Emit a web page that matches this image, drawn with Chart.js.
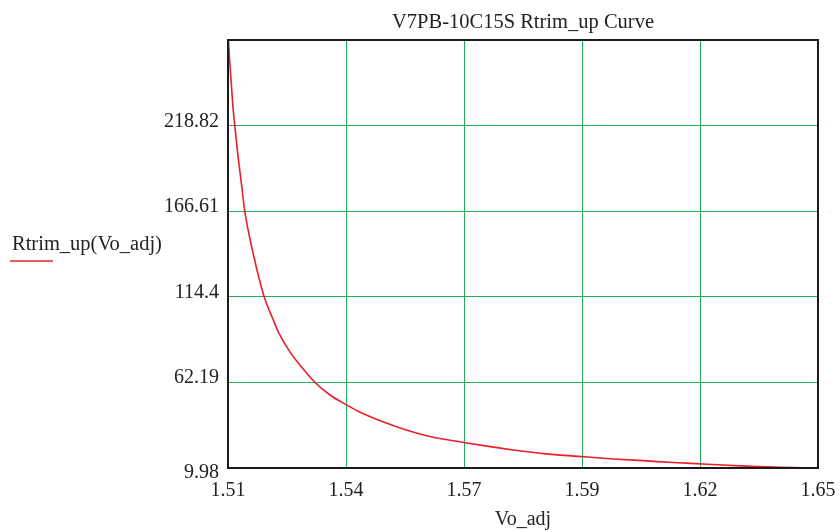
<!DOCTYPE html>
<html>
<head>
<meta charset="utf-8">
<script src="https://cdn.jsdelivr.net/npm/chart.js@4.4.0/dist/chart.umd.min.js"></script>
<style>
  html, body { margin: 0; padding: 0; background: #fff; }
  #wrap { width: 840px; height: 531px; }
</style>
</head>
<body>
<div id="wrap"><canvas id="chart" width="840" height="531"></canvas></div>
<script>
// values
const voAdj = [1.5101, 1.5104, 1.5112, 1.5116, 1.5123, 1.5133, 1.5139, 1.5160, 1.5186, 1.5206,
  1.5219, 1.5247, 1.5278, 1.5306, 1.5342, 1.5379, 1.5420, 1.5500, 1.5579, 1.5656,
  1.5714, 1.5777, 1.5856, 1.5940, 1.6014, 1.6094, 1.6157, 1.6236, 1.6315, 1.6394, 1.6500];
const rtrimUp = [271.03, 258.0, 229.5, 219.0, 202.0, 181.0, 168.0, 140.5, 114.3, 101.2,
  93.2, 80.8, 70.5, 62.3, 54.5, 48.8, 43.2, 35.2, 29.2, 25.7,
  23.3, 21.0, 18.6, 16.9, 15.5, 14.3, 13.3, 12.3, 11.3, 10.5, 9.98];

const xTicks = [1.51, 1.538, 1.566, 1.594, 1.622, 1.65];
const yTicks = [9.98, 62.19, 114.4, 166.61, 218.82, 271.03];
const yLabels = ['9.98', '62.19', '114.4', '166.61', '218.82', ''];

const serif = '"Liberation Serif", "Times New Roman", serif';
const textColor = '#222';
const gridGreen = '#22ab5c';

// title, y labels, legend and the frame are drawn here the way Mathcad places them
const extras = {
  id: 'extras',
  afterDraw(chart) {
    const ctx = chart.ctx;
    const area = chart.chartArea;
    const yScale = chart.scales.y;
    ctx.save();
    ctx.fillStyle = textColor;
    ctx.textBaseline = 'alphabetic';

    ctx.font = '20.5px ' + serif;
    ctx.textAlign = 'center';
    ctx.fillText('V7PB-10C15S Rtrim_up Curve', (area.left + area.right) / 2, 28);

    ctx.font = '20px ' + serif;
    ctx.textAlign = 'right';
    yTicks.forEach((v, i) => {
      if (!yLabels[i]) return;
      const py = yScale.getPixelForValue(v);
      ctx.fillText(yLabels[i], 219, i === 0 ? py + 10 : py + 1);
    });

    // legend
    ctx.textAlign = 'left';
    ctx.font = '20.5px ' + serif;
    ctx.fillText('Rtrim_up(Vo_adj)', 12, 250);
    ctx.strokeStyle = '#e8202a';
    ctx.lineWidth = 1.5;
    ctx.beginPath();
    ctx.moveTo(10, 261);
    ctx.lineTo(53, 261);
    ctx.stroke();

    // frame
    ctx.strokeStyle = '#1a1a1a';
    ctx.lineWidth = 2;
    ctx.strokeRect(area.left, area.top, area.right - area.left, area.bottom - area.top);
    ctx.restore();
  }
};

const canvas = document.getElementById('chart');

new Chart(canvas, {
  type: 'line',
  data: {
    datasets: [{
      label: 'Rtrim_up(Vo_adj)',
      data: voAdj.map((v, i) => ({ x: v, y: rtrimUp[i] })),
      borderColor: '#e8202a',
      borderWidth: 1.6,
      pointRadius: 0,
      fill: false,
      cubicInterpolationMode: 'monotone'
    }]
  },
  options: {
    responsive: false,
    animation: false,
    layout: { padding: { left: 0, right: 22, top: 40, bottom: 0 } },
    plugins: {
      legend: { display: false },
      tooltip: { enabled: false },
      title: { display: false }
    },
    scales: {
      x: {
        type: 'linear',
        min: 1.51,
        max: 1.65,
        afterBuildTicks: axis => { axis.ticks = xTicks.map(v => ({ value: v })); },
        afterFit: axis => {
          axis.height = 63;
          axis.paddingLeft = 0;
          axis.paddingRight = 0;
        },
        grid: { color: gridGreen, lineWidth: 1, drawTicks: false },
        border: { display: false },
        ticks: {
          color: textColor,
          font: { family: serif, size: 20 },
          padding: 11,
          maxRotation: 0,
          autoSkip: false,
          callback: v => v.toFixed(2)
        },
        title: {
          display: true,
          text: 'Vo_adj',
          color: textColor,
          font: { family: serif, size: 20, lineHeight: 1.1 },
          padding: { top: 0, bottom: 0 }
        }
      },
      y: {
        min: 9.98,
        max: 271.03,
        afterBuildTicks: axis => { axis.ticks = yTicks.map(v => ({ value: v })); },
        afterFit: axis => { axis.width = 228; },
        grid: { color: gridGreen, lineWidth: 1, drawTicks: false },
        border: { display: false },
        ticks: { display: false }
      }
    }
  },
  plugins: [extras]
});
</script>
</body>
</html>
